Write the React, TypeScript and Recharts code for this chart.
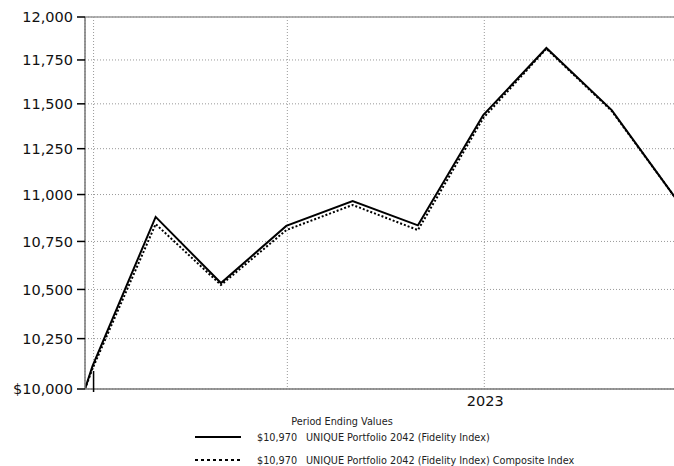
import React from 'react';
import { LineChart, Line, XAxis, YAxis, CartesianGrid, ReferenceLine } from 'recharts';

const periodDates = ['2021-12-24', '2021-12-31', '2022-02-28', '2022-04-30', '2022-06-30', '2022-08-31', '2022-10-31', '2022-12-31', '2023-02-28', '2023-04-30', '2023-06-30'];
const portfolioValues = [10000, 10113, 10880, 10533, 10832, 10965, 10835, 11437, 11819, 11465, 10970];
const compositeValues = [10000, 10100, 10842, 10523, 10810, 10944, 10810, 11420, 11815, 11460, 10970];
const yTicks = [10000, 10250, 10500, 10750, 11000, 11250, 11500, 11750, 12000];
const gridDates = ['2022-01-01', '2022-07-01', '2023-01-01'];
const yearLabelDate = '2023-01-01';
const markerDate = '2022-01-01';
const legendTitle = 'Period Ending Values';
const seriesNames = ['UNIQUE Portfolio 2042 (Fidelity Index)', 'UNIQUE Portfolio 2042 (Fidelity Index) Composite Index'];
const endingValues = ['$10,970', '$10,970'];

const BASE = Date.UTC(2022, 0, 1);
const toDay = (s: string) => {
  const [y, m, d] = s.split('-').map(Number);
  return Math.round((Date.UTC(y, m - 1, d) - BASE) / 86400000);
};

const data = periodDates.map((d, i) => ({
  day: toDay(d),
  portfolio: portfolioValues[i],
  composite: compositeValues[i],
}));

const xTicks = gridDates.map(toDay);
const yearDay = toDay(yearLabelDate);
const markerDay = toDay(markerDate);
const FONT = '"DejaVu Sans", Verdana, sans-serif';

const XTick = (props: any) => {
  const { x, y, payload } = props;
  const axisY = y - 4;
  if (payload.value === markerDay) {
    return <line x1={x} x2={x} y1={axisY - 18} y2={axisY + 3} stroke="#000" strokeWidth={1.5} />;
  }
  if (payload.value === yearDay) {
    return (
      <text x={x + 1} y={axisY + 17} textAnchor="middle" fontSize={14.5} fontFamily={FONT} fill="#111">
        2023
      </text>
    );
  }
  return <g />;
};

const fmtY = (v: number) => (v === 10000 ? '$10,000' : v.toLocaleString('en-US'));

export default function App() {
  return (
    <div style={{ position: 'absolute', left: 0, top: 0, width: 674, height: 466, overflow: 'hidden', background: '#fff' }}>
      <LineChart width={700} height={420} data={data} margin={{ top: 17, right: 23, left: 0, bottom: 0 }}>
        <CartesianGrid stroke="#999" strokeDasharray="1 2" horizontal vertical />
        <ReferenceLine y={12000} stroke="#999" strokeWidth={1.5} />
        <XAxis
          dataKey="day"
          type="number"
          domain={[-8, 545]}
          ticks={xTicks}
          allowDataOverflow
          tick={<XTick />}
          tickLine={false}
          tickSize={0}
          tickMargin={4}
          height={31}
          axisLine={{ stroke: '#777', strokeWidth: 1.5 }}
          interval={0}
        />
        <YAxis
          scale="log"
          type="number"
          domain={[10000, 12000]}
          ticks={yTicks}
          allowDataOverflow
          interval={0}
          width={85}
          tickSize={8}
          tickMargin={4}
          tickLine={{ stroke: '#000', strokeWidth: 1.5 }}
          axisLine={{ stroke: '#777', strokeWidth: 1.5 }}
          tickFormatter={fmtY}
          tick={{ fontSize: 14.5, fontFamily: FONT, fill: '#111' }}
        />
        <Line dataKey="composite" stroke="#000" strokeWidth={2} strokeDasharray="2 2" dot={false} isAnimationActive={false} />
        <Line dataKey="portfolio" stroke="#000" strokeWidth={2} dot={false} isAnimationActive={false} />
      </LineChart>
      <svg width={674} height={61} style={{ position: 'absolute', left: 0, top: 405 }}>
        <text x={342} y={20} textAnchor="middle" fontSize={9.7} fontFamily={FONT} fill="#222">
          {legendTitle}
        </text>
        <line x1={195} x2={241} y1={32} y2={32} stroke="#000" strokeWidth={2} />
        <text x={257} y={36} fontSize={9.7} fontFamily={FONT} fill="#222">{endingValues[0]}</text>
        <text x={306} y={36} fontSize={9.7} fontFamily={FONT} fill="#222">{seriesNames[0]}</text>
        <line x1={195} x2={241} y1={55} y2={55} stroke="#000" strokeWidth={2} strokeDasharray="3 3" />
        <text x={257} y={59} fontSize={9.7} fontFamily={FONT} fill="#222">{endingValues[1]}</text>
        <text x={306} y={59} fontSize={9.7} fontFamily={FONT} fill="#222">{seriesNames[1]}</text>
      </svg>
    </div>
  );
}
